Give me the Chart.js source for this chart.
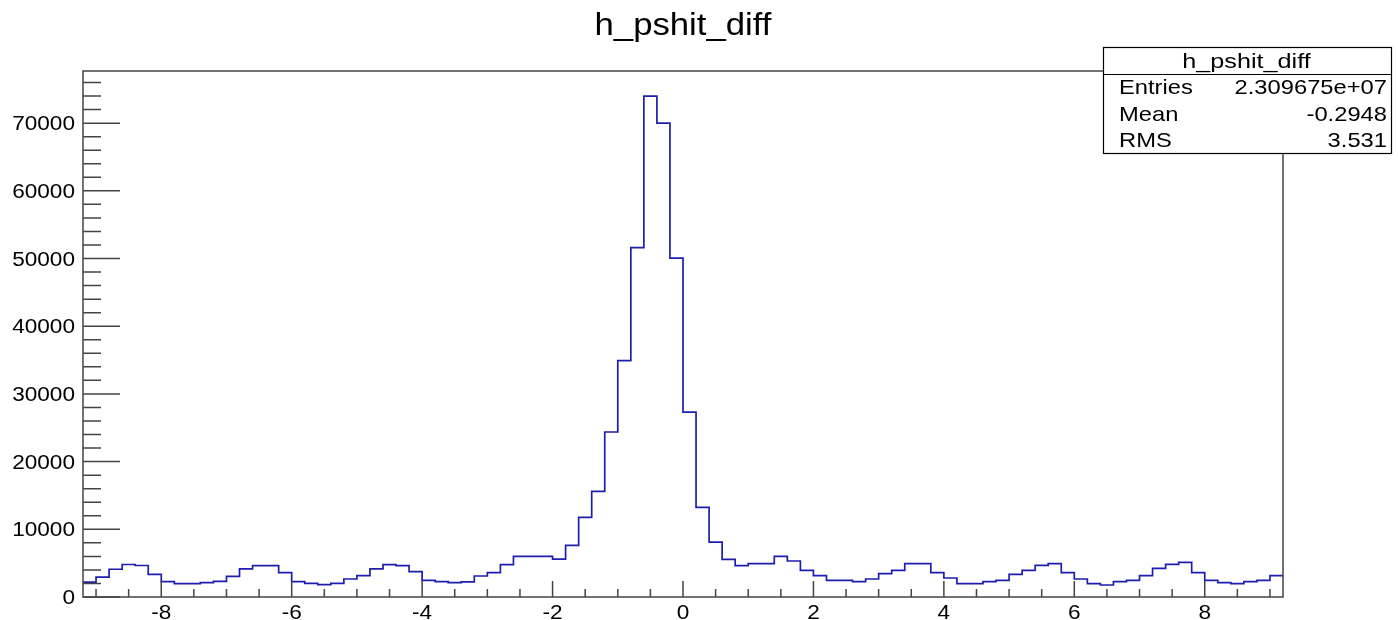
<!DOCTYPE html>
<html>
<head>
<meta charset="utf-8">
<script src="https://cdn.jsdelivr.net/npm/chart.js@4.4.0/dist/chart.umd.min.js"></script>
<style>
  html, body { margin: 0; padding: 0; background: #fff; }
  #wrap { width: 1398px; height: 620px; }
</style>
</head>
<body>
<div id="wrap"><canvas id="histChart" width="1398" height="620"></canvas></div>
<script>
// histogram binning: 92 bins of 0.2 from -9.2 to 9.2
const histTitle = 'h_pshit_diff';
const xLow = -9.2;
const xHigh = 9.2;
const binWidth = 0.2;
const binCounts = [
  2200, 2950, 4100, 4800, 4650, 3350, 2270, 1980, 1980, 2120,
  2320, 3060, 4140, 4640, 4640, 3600, 2270, 2020, 1830, 2020,
  2660, 3160, 4140, 4780, 4640, 3750, 2470, 2270, 2120, 2240,
  3100, 3600, 4780, 6010, 6010, 6010, 5590, 7620, 11770, 15610,
  24370, 34910, 51600, 73990, 70000, 50060, 27320, 13250, 8100, 5570,
  4640, 4930, 4930, 6010, 5320, 3940, 3160, 2470, 2470, 2270,
  2660, 3450, 3940, 4930, 4930, 3600, 2810, 1980, 1980, 2270,
  2470, 3350, 3940, 4680, 4930, 3600, 2660, 1980, 1770, 2270,
  2470, 3160, 4240, 4830, 5120, 3600, 2470, 2120, 1980, 2270,
  2470, 3160
];
const yMax = 77700;
const xTickValues = [-8, -6, -4, -2, 0, 2, 4, 6, 8];
const yTickValues = [0, 10000, 20000, 30000, 40000, 50000, 60000, 70000];
const xMinorStep = 0.5;
const yMinorStep = 2000;
const statsLabels = ['Entries', 'Mean', 'RMS'];
const statsValues = ['2.309675e+07', '-0.2948', '3.531'];

const lineColor = '#1e1eae';
const frameColor = '#444';
const fontFamily = '"Liberation Sans", Arial, Helvetica, sans-serif';

// points at low edges, plus closing point at the upper edge
const histPoints = binCounts.map((c, i) => ({ x: xLow + i * binWidth, y: c }));
histPoints.push({ x: xHigh, y: binCounts[binCounts.length - 1] });

// ROOT text comes out a bit wide, so stretch horizontally
function wideText(ctx, text, x, y, size, align, baseline, sx) {
  ctx.save();
  ctx.font = size + 'px ' + fontFamily;
  ctx.textAlign = align;
  ctx.textBaseline = baseline;
  ctx.translate(x, y);
  ctx.scale(sx, 1);
  ctx.fillText(text, 0, 0);
  ctx.restore();
}

const rootFrame = {
  id: 'rootFrame',
  afterDatasetsDraw(chart) {
    const { ctx, chartArea: a, scales } = chart;
    const xs = scales.x, ys = scales.y;
    ctx.save();
    ctx.strokeStyle = frameColor;
    ctx.lineWidth = 1.5;
    ctx.strokeRect(a.left, a.top, a.right - a.left, a.bottom - a.top);

    ctx.beginPath();
    // x ticks, pointing into the frame
    for (let v = Math.ceil(xLow / xMinorStep) * xMinorStep; v <= xHigh + 1e-9; v += xMinorStep) {
      const px = xs.getPixelForValue(v);
      const major = xTickValues.some(t => Math.abs(t - v) < 1e-6);
      ctx.moveTo(px, a.bottom);
      ctx.lineTo(px, a.bottom - (major ? 16 : 8));
    }
    // y ticks
    for (let v = 0; v <= yMax; v += yMinorStep) {
      const py = ys.getPixelForValue(v);
      const major = yTickValues.includes(v);
      ctx.moveTo(a.left, py);
      ctx.lineTo(a.left + (major ? 37 : 18), py);
    }
    ctx.stroke();

    // tick labels
    ctx.fillStyle = '#000';
    xTickValues.forEach(v => {
      wideText(ctx, String(v), xs.getPixelForValue(v), 618.5, 20, 'center', 'alphabetic', 1.13);
    });
    yTickValues.forEach(v => {
      wideText(ctx, String(v), 75, ys.getPixelForValue(v) + 1.5, 20, 'right', 'middle', 1.13);
    });
    ctx.restore();
  },
  afterDraw(chart) {
    const { ctx } = chart;
    ctx.save();
    ctx.fillStyle = '#000';
    wideText(ctx, histTitle, 683, 35, 31, 'center', 'alphabetic', 1.12);

    // stats box
    const bx = 1103.5, by = 47.5, bw = 288, bh = 106;
    ctx.fillStyle = '#fff';
    ctx.fillRect(bx, by, bw, bh);
    ctx.strokeStyle = '#000';
    ctx.lineWidth = 1.2;
    ctx.strokeRect(bx, by, bw, bh);
    ctx.beginPath();
    ctx.moveTo(bx, 74.5);
    ctx.lineTo(bx + bw, 74.5);
    ctx.stroke();

    ctx.fillStyle = '#000';
    wideText(ctx, histTitle, 1246.5, 68, 21, 'center', 'alphabetic', 1.2);
    statsLabels.forEach((lab, i) => {
      const yb = 94 + i * 26.5;
      wideText(ctx, lab, 1119, yb, 21, 'left', 'alphabetic', 1.13);
      wideText(ctx, statsValues[i], 1387, yb, 21, 'right', 'alphabetic', 1.13);
    });
    ctx.restore();
  }
};

new Chart(document.getElementById('histChart'), {
  type: 'line',
  data: {
    datasets: [{
      label: histTitle,
      data: histPoints,
      stepped: 'before',
      borderColor: lineColor,
      borderWidth: 1.7,
      pointRadius: 0,
      fill: false
    }]
  },
  options: {
    responsive: false,
    animation: false,
    layout: { padding: { top: 71, right: 115, bottom: 0, left: 0 } },
    plugins: {
      legend: { display: false },
      tooltip: { enabled: false },
      title: { display: false }
    },
    scales: {
      x: {
        type: 'linear',
        min: xLow,
        max: xHigh,
        grid: { display: false, drawTicks: false },
        border: { display: false },
        ticks: { display: false },
        afterBuildTicks: s => { s.ticks = xTickValues.map(v => ({ value: v })); },
        afterFit: s => { s.height = 23; }
      },
      y: {
        type: 'linear',
        min: 0,
        max: yMax,
        grid: { display: false, drawTicks: false },
        border: { display: false },
        ticks: { display: false },
        afterBuildTicks: s => { s.ticks = yTickValues.map(v => ({ value: v })); },
        afterFit: s => { s.width = 83; }
      }
    }
  },
  plugins: [rootFrame]
});
</script>
</body>
</html>
